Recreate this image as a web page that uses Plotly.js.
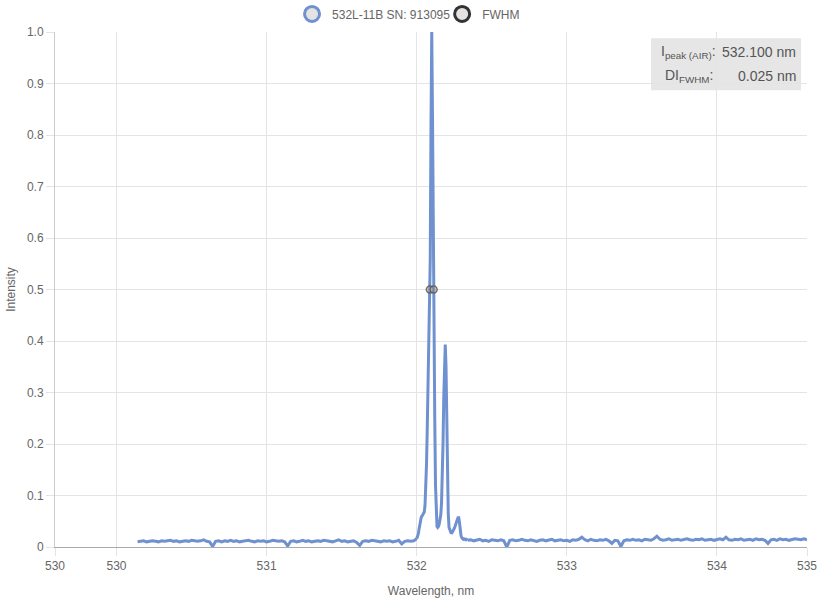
<!DOCTYPE html>
<html>
<head>
<meta charset="utf-8">
<script src="https://cdn.plot.ly/plotly-3.0.1.min.js"></script>
<style>html,body{margin:0;padding:0;background:#fff}#chart{width:820px;height:600px}</style>
</head>
<body>
<div id="chart"></div>
<script>
// ---- data ----
var seriesName = "532L-11B SN: 913095";
var fwhmName = "FWHM";
var peakLabel = "532.100 nm";
var fwhmLabel = "0.025 nm";

// spectrum segment A: start 530.14 nm, step 0.02 nm
var specA_x0 = 530.14, specA_dx = 0.02;
var specA = [0.010,0.011,0.012,0.010,0.011,0.012,0.011,0.010,0.012,0.011,
0.012,0.013,0.011,0.012,0.010,0.011,0.012,0.011,0.013,0.012,
0.011,0.012,0.014,0.011,0.010,0.001,0.011,0.012,0.010,0.012,
0.011,0.013,0.011,0.012,0.010,0.011,0.012,0.013,0.011,0.010,
0.012,0.011,0.012,0.010,0.011,0.013,0.012,0.011,0.012,0.010,
0.002,0.011,0.012,0.010,0.011,0.013,0.011,0.012,0.010,0.011,
0.012,0.011,0.013,0.012,0.011,0.010,0.012,0.014,0.011,0.012,
0.010,0.011,0.012,0.009,0.003,0.011,0.012,0.011,0.013,0.012,
0.011,0.010,0.012,0.011,0.012,0.010,0.011,0.013,0.006,0.011,
0.012,0.011,0.012,0.016];

// spectrum segment B (peak region): start 532.00 nm, step 0.005 nm
var specB_x0 = 532.00, specB_dx = 0.005;
var specB = [0.016,0.020,0.025,0.034,0.045,0.055,0.058,0.060,0.062,0.064,
0.068,0.080,0.110,0.160,0.230,0.310,0.380,0.450,0.560,0.820,
1.000,0.840,0.550,0.420,0.250,0.120,0.060,0.040,0.038,0.040,
0.045,0.052,0.062,0.085,0.130,0.200,0.290,0.370,0.393,0.350,
0.240,0.130,0.065,0.038,0.032,0.027,0.026,0.028,0.030,0.033,
0.036,0.040,0.046,0.047,0.053,0.057,0.057,0.047,0.032,0.022,
0.018,0.016,0.015,0.016,0.015,0.014,0.015,0.014,0.013];

// spectrum segment C: start 532.34 nm, step 0.02 nm
var specC_x0 = 532.34, specC_dx = 0.02;
var specC = [0.013,0.014,0.012,0.013,0.015,0.012,0.013,0.011,0.014,0.013,
0.012,0.014,0.012,0.000,0.013,0.014,0.012,0.013,0.015,0.013,
0.012,0.014,0.013,0.011,0.013,0.014,0.012,0.013,0.015,0.012,
0.013,0.014,0.012,0.013,0.011,0.014,0.013,0.015,0.019,0.014,
0.012,0.015,0.013,0.012,0.014,0.013,0.015,0.012,0.007,0.013,
0.012,0.001,0.012,0.014,0.013,0.015,0.013,0.014,0.012,0.015,
0.014,0.013,0.016,0.021,0.015,0.013,0.014,0.016,0.013,0.014,
0.015,0.013,0.014,0.016,0.014,0.013,0.015,0.014,0.016,0.013,
0.014,0.015,0.013,0.014,0.016,0.014,0.019,0.014,0.013,0.015,
0.014,0.016,0.013,0.014,0.015,0.013,0.016,0.014,0.015,0.013,
0.007,0.014,0.015,0.013,0.016,0.014,0.015,0.013,0.014,0.016,
0.015,0.014,0.016,0.014];

var fwhmX = [532.0875, 532.1125];
var fwhmY = [0.5, 0.5];

var xTickVals = [529.59, 530, 531, 532, 533, 534, 534.6];
var xTickText = ["530", "530", "531", "532", "533", "534", "535"];
var yTickVals = [0, 0.1, 0.2, 0.3, 0.4, 0.5, 0.6, 0.7, 0.8, 0.9, 1.0];
var yTickText = ["0", "0.1", "0.2", "0.3", "0.4", "0.5", "0.6", "0.7", "0.8", "0.9", "1.0"];

// ---- styles ----
var blue = "rgb(112,145,207)";
var font = "Liberation Sans, Arial, Helvetica, sans-serif";
var lineStyle = {color: blue, width: 3};
var boxFont = {family: font, size: 14, color: "#555"};
var legendFont = {family: font, size: 12, color: "#666"};

var traces = [
  {type: "scatter", mode: "lines", x0: specA_x0, dx: specA_dx, y: specA, line: lineStyle, showlegend: false, hoverinfo: "skip"},
  {type: "scatter", mode: "lines", x0: specB_x0, dx: specB_dx, y: specB, line: lineStyle, showlegend: false, hoverinfo: "skip"},
  {type: "scatter", mode: "lines", x0: specC_x0, dx: specC_dx, y: specC, line: lineStyle, showlegend: false, hoverinfo: "skip"},
  {type: "scatter", mode: "markers", x: fwhmX, y: fwhmY, showlegend: false, hoverinfo: "skip",
   marker: {symbol: "circle", size: 7, color: "rgba(160,160,160,0.5)", line: {color: "rgba(90,90,90,0.85)", width: 1.5}}},
  // legend entries
  {type: "scatter", mode: "markers", x: [null], y: [null], name: seriesName, legend: "legend",
   marker: {symbol: "circle", size: 15, color: "#e3e3e3", line: {color: blue, width: 3}}},
  {type: "scatter", mode: "markers", x: [null], y: [null], name: fwhmName, legend: "legend2",
   marker: {symbol: "circle", size: 15, color: "#e3e3e3", line: {color: "#333", width: 3}}}
];

var layout = {
  width: 820, height: 600, autosize: false,
  margin: {l: 55, r: 13, t: 32, b: 53, pad: 0, autoexpand: false},
  paper_bgcolor: "#fff", plot_bgcolor: "#fff",
  font: {family: font, size: 12, color: "#666"},
  showlegend: true,
  legend: {orientation: "h", x: 0.3152, xanchor: "left", y: 1.035, yanchor: "middle",
           font: legendFont, itemsizing: "trace", itemwidth: 30, bgcolor: "rgba(0,0,0,0)"},
  legend2: {orientation: "h", x: 0.5148, xanchor: "left", y: 1.035, yanchor: "middle",
           font: legendFont, itemsizing: "trace", itemwidth: 30, bgcolor: "rgba(0,0,0,0)"},
  xaxis: {
    range: [529.59, 534.6], tickmode: "array", tickvals: xTickVals, ticktext: xTickText,
    showgrid: true, gridcolor: "#e4e4e4", gridwidth: 1, zeroline: false,
    showline: true, linecolor: "#aaa", linewidth: 1, mirror: false,
    ticks: "outside", ticklen: 8, tickcolor: "#e4e4e4",
    tickfont: {family: font, size: 12, color: "#666"},
    title: {text: "Wavelength, nm", font: {family: font, size: 12, color: "#666"}, standoff: 14}
  },
  yaxis: {
    range: [0, 1], tickmode: "array", tickvals: yTickVals, ticktext: yTickText,
    showgrid: true, gridcolor: "#e4e4e4", gridwidth: 1, zeroline: false,
    showline: true, linecolor: "#ccc", linewidth: 1,
    ticks: "outside", ticklen: 8, tickcolor: "#e4e4e4",
    tickfont: {family: font, size: 12, color: "#666"},
    title: {text: "Intensity", font: {family: font, size: 12, color: "#666"}, standoff: 8}
  },
  shapes: [
    {type: "rect", xref: "paper", yref: "paper", x0: 0.7926, x1: 0.992, y0: 0.887, y1: 0.988,
     fillcolor: "#e6e6e6", line: {width: 0}, layer: "below"}
  ],
  annotations: [
    {xref: "paper", yref: "paper", x: 0.882, y: 0.961, xanchor: "right", yanchor: "middle", align: "right",
     showarrow: false, text: "I<sub>peak (AIR)</sub>:", font: boxFont},
    {xref: "paper", yref: "paper", x: 0.878, y: 0.915, xanchor: "right", yanchor: "middle", align: "right",
     showarrow: false, text: "DI<sub>FWHM</sub>:", font: boxFont},
    {xref: "paper", yref: "paper", x: 0.988, y: 0.961, xanchor: "right", yanchor: "middle", align: "right",
     showarrow: false, text: peakLabel, font: boxFont},
    {xref: "paper", yref: "paper", x: 0.988, y: 0.915, xanchor: "right", yanchor: "middle", align: "right",
     showarrow: false, text: fwhmLabel, font: boxFont}
  ]
};

Plotly.newPlot("chart", traces, layout, {staticPlot: true, displayModeBar: false});
</script>
</body>
</html>
